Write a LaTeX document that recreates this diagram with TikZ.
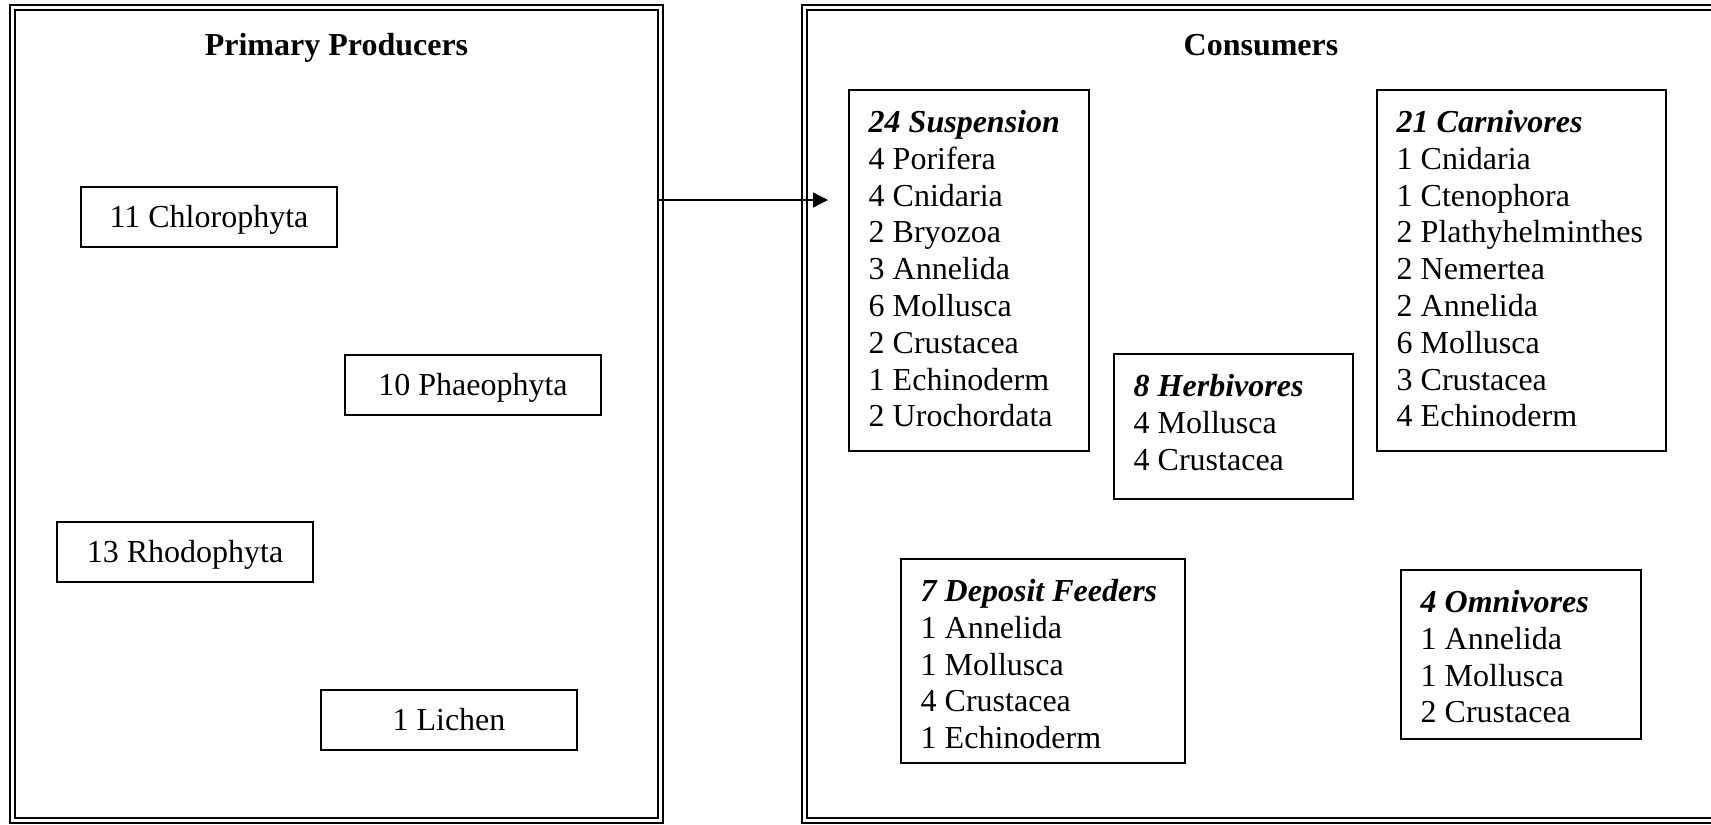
\documentclass[tikz,border=0pt]{standalone}
\usepackage{fontspec}
\setmainfont{Liberation Serif}
\usetikzlibrary{arrows.meta}
\begin{document}
\begin{tikzpicture}[x=0.375pt,y=-0.375pt,
  every node/.style={font=\fontsize{12}{13.8}\selectfont},
  % thin outer and thick inner line of the double frames
  frameout/.style={draw, line width=0.55pt, inner sep=0pt, outer sep=0pt, anchor=north west},
  framein/.style={draw, line width=0.95pt, inner sep=0pt, outer sep=0pt, anchor=north west},
  heading/.style={font=\fontsize{12}{13.8}\selectfont\bfseries, anchor=base},
  % single-line producer boxes
  prodbox/.style={draw, line width=0.8pt, inner sep=0pt, outer sep=0pt, anchor=north west,
    minimum width=96pt, minimum height=22.5pt, text height=10.5pt, text depth=3pt},
  % feeding-group boxes and their listed contents
  groupbox/.style={draw, line width=0.8pt, inner sep=0pt, outer sep=0pt, anchor=north west},
  grouptext/.style={inner sep=0pt, align=left, anchor=north west},
  flow/.style={line width=0.45pt, -{Triangle[length=5.6pt,width=5.6pt]}}
]
\useasboundingbox (0,0) rectangle (1711,825);

% Primary producers frame
\node[frameout, minimum width=244.875pt, minimum height=306.75pt] (prodout) at (10,5) {};
\node[framein, minimum width=241.125pt, minimum height=303pt] (prodin) at (15,10) {};
\node[heading] (prodtitle) at (336.5,55) {Primary Producers};

\node[prodbox] (chloro) at (81,187) {11 Chlorophyta};
\node[prodbox] (phaeo) at (345,355) {10 Phaeophyta};
\node[prodbox] (rhodo) at (57,522) {13 Rhodophyta};
\node[prodbox] (lichen) at (321,690) {1 Lichen};

% Consumers frame
\node[frameout, minimum width=344.25pt, minimum height=306.75pt] (consout) at (802,5) {};
\node[framein, minimum width=340.5pt, minimum height=303pt] (consin) at (807,10) {};
\node[heading] (constitle) at (1261,55) {Consumers};

\node[groupbox, minimum width=90pt, minimum height=135.375pt] (susp) at (849,90) {};
\node[grouptext] (susptext) at ([shift={(7.2pt,-6.1pt)}]susp.north west)
  {\strut\textbf{\textit{24 Suspension}}\\4 Porifera\\4 Cnidaria\\2 Bryozoa\\3 Annelida\\6 Mollusca\\2 Crustacea\\1 Echinoderm\\2 Urochordata};

\node[groupbox, minimum width=89.625pt, minimum height=54.375pt] (herb) at (1114,354) {};
\node[grouptext] (herbtext) at ([shift={(7.2pt,-6.1pt)}]herb.north west)
  {\strut\textbf{\textit{8 Herbivores}}\\4 Mollusca\\4 Crustacea};

\node[groupbox, minimum width=108.375pt, minimum height=135.375pt] (carn) at (1377,90) {};
\node[grouptext] (carntext) at ([shift={(7.2pt,-6.1pt)}]carn.north west)
  {\strut\textbf{\textit{21 Carnivores}}\\1 Cnidaria\\1 Ctenophora\\2 Plathyhelminthes\\2 Nemertea\\2 Annelida\\6 Mollusca\\3 Crustacea\\4 Echinoderm};

\node[groupbox, minimum width=106.5pt, minimum height=76.5pt] (depo) at (901,559) {};
\node[grouptext] (depotext) at ([shift={(7.2pt,-6.1pt)}]depo.north west)
  {\strut\textbf{\textit{7 Deposit Feeders}}\\1 Annelida\\1 Mollusca\\4 Crustacea\\1 Echinoderm};

\node[groupbox, minimum width=90pt, minimum height=63.375pt] (omni) at (1401,570) {};
\node[grouptext] (omnitext) at ([shift={(7.2pt,-6.1pt)}]omni.north west)
  {\strut\textbf{\textit{4 Omnivores}}\\1 Annelida\\1 Mollusca\\2 Crustacea};

% Energy flow from producers to consumers
\coordinate (flowend) at (828,200);
\draw[flow] (prodin.east |- flowend) -- (flowend);
\end{tikzpicture}
\end{document}
